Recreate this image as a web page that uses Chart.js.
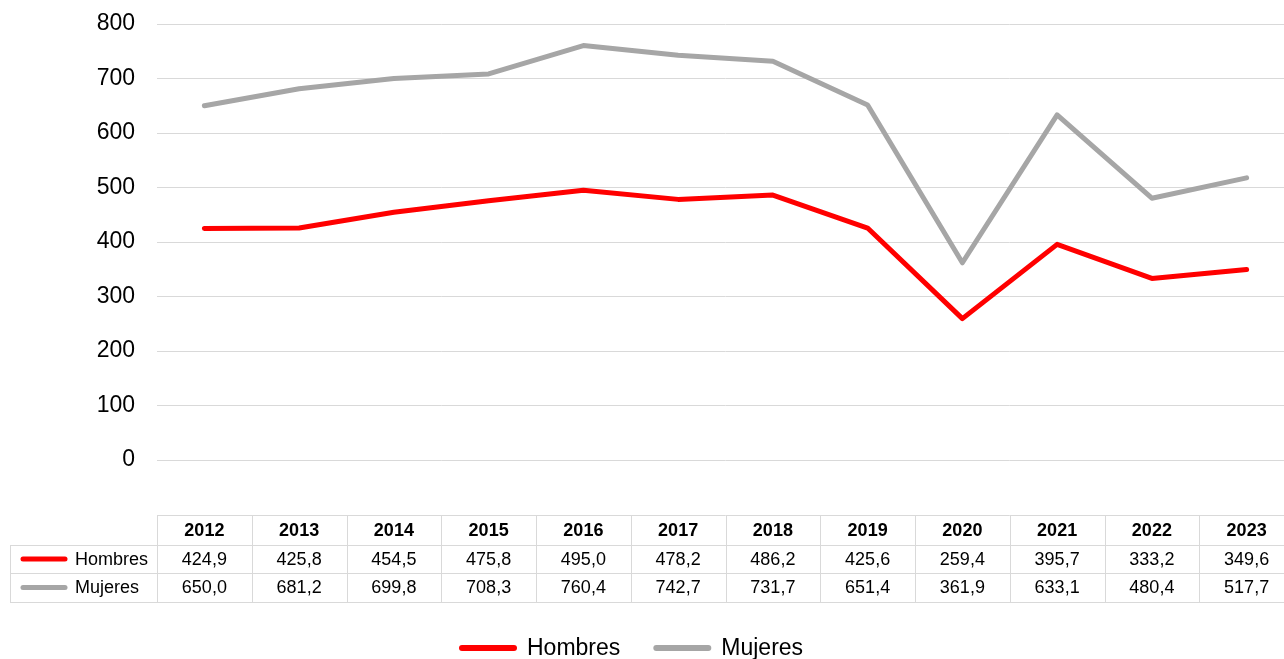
<!DOCTYPE html>
<html>
<head>
<meta charset="utf-8">
<script src="https://cdn.jsdelivr.net/npm/chart.js@4.4.0/dist/chart.umd.min.js"></script>
<style>
  html, body { margin: 0; padding: 0; background: #fff; overflow: hidden; }
  #wrap { width: 1284px; height: 659px; overflow: hidden; }
</style>
</head>
<body>
<div id="wrap"><canvas id="chart" width="1296" height="659"></canvas></div>
<script>
const years = ['2012','2013','2014','2015','2016','2017','2018','2019','2020','2021','2022','2023'];
const hombres = [424.9, 425.8, 454.5, 475.8, 495.0, 478.2, 486.2, 425.6, 259.4, 395.7, 333.2, 349.6];
const mujeres = [650.0, 681.2, 699.8, 708.3, 760.4, 742.7, 731.7, 651.4, 361.9, 633.1, 480.4, 517.7];
const seriesNames = ['Hombres', 'Mujeres'];
const seriesColors = ['#ff0000', '#a6a6a6'];

const FONT = '"Liberation Sans", Arial, sans-serif';
const GRID = '#d9d9d9';

function fmt(v){ return v.toFixed(1).replace('.', ','); }

// data table + legend under the plot
const tablePlugin = {
  id: 'dataTable',
  afterDraw(chart){
    const ctx = chart.ctx;
    const x = chart.scales.x;
    const half = (x.getPixelForValue(1) - x.getPixelForValue(0)) / 2;
    const left = 10, colStart = x.getPixelForValue(0) - half, right = x.getPixelForValue(years.length - 1) + half;
    const rows = [515, 545, 573, 602];
    ctx.save();
    ctx.strokeStyle = GRID; ctx.lineWidth = 1;
    ctx.beginPath();
    ctx.moveTo(colStart, rows[0] + 0.5); ctx.lineTo(right, rows[0] + 0.5);
    for (let i = 1; i < rows.length; i++){ ctx.moveTo(left, rows[i] + 0.5); ctx.lineTo(right, rows[i] + 0.5); }
    ctx.moveTo(left + 0.5, rows[1]); ctx.lineTo(left + 0.5, rows[3]);
    for (let i = 0; i <= years.length; i++){
      const px = Math.round(colStart + i * half * 2) + 0.5;
      ctx.moveTo(px, rows[0]); ctx.lineTo(px, rows[3]);
    }
    ctx.stroke();

    ctx.fillStyle = '#000'; ctx.textAlign = 'center'; ctx.textBaseline = 'middle';
    ctx.font = 'bold 18px ' + FONT;
    years.forEach((y, i) => ctx.fillText(y, x.getPixelForValue(i), (rows[0] + rows[1]) / 2 + 1));
    ctx.font = '18px ' + FONT;
    [hombres, mujeres].forEach((arr, r) => {
      const cy = (rows[r + 1] + rows[r + 2]) / 2 + 1;
      arr.forEach((v, i) => ctx.fillText(fmt(v), x.getPixelForValue(i), cy));
      // row key
      ctx.strokeStyle = seriesColors[r]; ctx.lineWidth = 5; ctx.lineCap = 'round';
      ctx.beginPath(); ctx.moveTo(23, cy - 1); ctx.lineTo(65, cy - 1); ctx.stroke();
      ctx.textAlign = 'left'; ctx.fillText(seriesNames[r], 75, cy);
      ctx.textAlign = 'center';
    });

    // legend
    ctx.font = '23px ' + FONT; ctx.textAlign = 'left';
    let lx = 462;
    const ly = 648;
    seriesNames.forEach((name, i) => {
      ctx.strokeStyle = seriesColors[i]; ctx.lineWidth = 6; ctx.lineCap = 'round';
      ctx.beginPath(); ctx.moveTo(lx, ly); ctx.lineTo(lx + 52, ly); ctx.stroke();
      ctx.fillStyle = '#000';
      ctx.fillText(name, lx + 65, ly + 1);
      lx += 65 + ctx.measureText(name).width + 36;
    });
    ctx.restore();
  }
};

new Chart(document.getElementById('chart'), {
  type: 'line',
  data: {
    labels: years,
    datasets: [
      { label: seriesNames[0], data: hombres, borderColor: seriesColors[0], backgroundColor: seriesColors[0], borderWidth: 5, pointRadius: 0, tension: 0, borderCapStyle: 'round', borderJoinStyle: 'round' },
      { label: seriesNames[1], data: mujeres, borderColor: seriesColors[1], backgroundColor: seriesColors[1], borderWidth: 5, pointRadius: 0, tension: 0, borderCapStyle: 'round', borderJoinStyle: 'round' }
    ]
  },
  options: {
    responsive: false,
    animation: false,
    layout: { padding: { top: 24, bottom: 199, right: 2, left: 0 } },
    plugins: { legend: { display: false }, tooltip: { enabled: false } },
    scales: {
      x: { type: 'category', offset: true, display: false },
      y: {
        min: 0, max: 800,
        ticks: { stepSize: 100, color: '#000', font: { family: FONT, size: 23 }, padding: 22 },
        grid: { color: GRID, drawTicks: false },
        border: { display: false },
        afterFit(s){ s.width = 157; s.paddingTop = 0; s.paddingBottom = 0; }
      }
    }
  },
  plugins: [tablePlugin]
});
</script>
</body>
</html>
